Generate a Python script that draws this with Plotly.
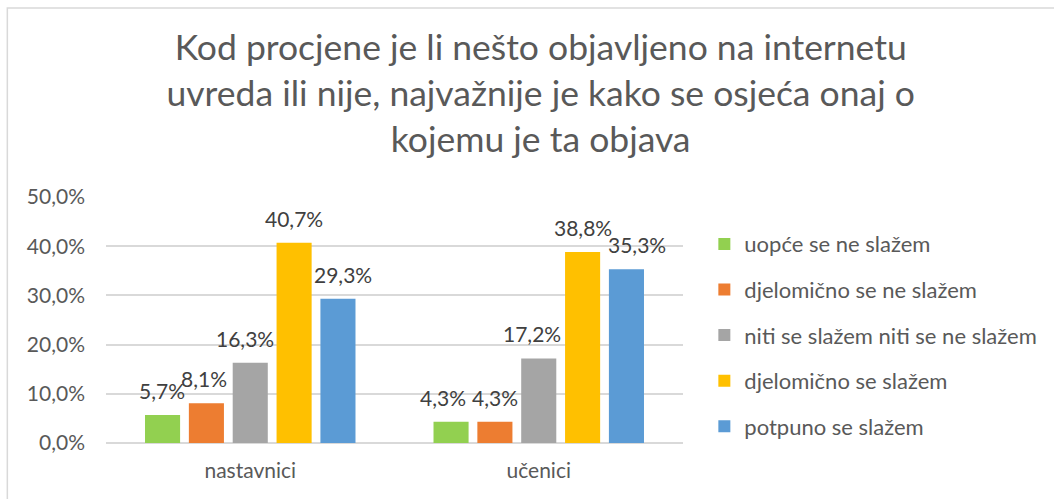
import plotly.graph_objects as go

# data
groups = ['nastavnici', 'učenici']
answers = ['uopće se ne slažem', 'djelomično se ne slažem',
           'niti se slažem niti se ne slažem', 'djelomično se slažem',
           'potpuno se slažem']
values = {
    'uopće se ne slažem': [5.7, 4.3],
    'djelomično se ne slažem': [8.1, 4.3],
    'niti se slažem niti se ne slažem': [16.3, 17.2],
    'djelomično se slažem': [40.7, 38.8],
    'potpuno se slažem': [29.3, 35.3],
}
colors = ['#92D050', '#ED7D31', '#A5A5A5', '#FFC000', '#5B9BD5']
y_ticks = [0, 10, 20, 30, 40, 50]

FONT = 'Lato, Liberation Sans, sans-serif'
TEXT_COL = '#595959'
BAR_PITCH = 44  # px between neighbouring bars in a group
# small sideways nudges of the value labels (px), per group, per answer
LABEL_NUDGE = {'nastavnici': [0, -2, -5, 0, 5],
               'učenici': [-8, 0, -7, 0, 10]}


def pct(v):
    return f'{v:.1f}%'.replace('.', ',')


fig = go.Figure()
for i, name in enumerate(answers):
    vals = values[name]
    fig.add_trace(go.Bar(
        x=groups,
        y=vals,
        name=name,
        legendgroup=name,
        marker=dict(color=colors[i], line=dict(width=0)),
        hoverinfo='skip',
    ))
    # value labels a bit above each bar
    for g, v in zip(groups, vals):
        fig.add_annotation(
            x=g, y=v, xref='x', yref='y',
            text=pct(v), showarrow=False,
            xanchor='center', yanchor='bottom',
            xshift=(i - 2) * BAR_PITCH + LABEL_NUDGE[g][i], yshift=10,
            font=dict(size=21, color='#404040', family=FONT),
        )

fig.update_layout(
    width=1054, height=499,
    margin=dict(l=106, r=369, t=197, b=56),
    paper_bgcolor='white', plot_bgcolor='white',
    barmode='group', bargap=0.24, bargroupgap=0.2,
    font=dict(family=FONT, color=TEXT_COL),
    title=dict(
        text='Kod procjene je li nešto objavljeno na internetu<br>'
             'uvreda ili nije, najvažnije je kako se osjeća onaj o<br>'
             'kojemu je ta objava',
        x=0.513, xref='container', xanchor='center',
        y=0.88, yref='container', yanchor='top',
        font=dict(size=35.5, color=TEXT_COL, family=FONT),
    ),
    legend=dict(
        x=1.037, xanchor='left', y=0.894, yanchor='top',
        font=dict(size=22, color=TEXT_COL, family=FONT),
        traceorder='grouped', tracegroupgap=14,
        itemwidth=30,
    ),
    showlegend=True,
)

fig.update_yaxes(
    range=[0, 50], tickvals=y_ticks,
    ticktext=[pct(v) for v in y_ticks],
    showgrid=True, gridcolor='#D9D9D9', gridwidth=1.5,
    zeroline=True, zerolinecolor='#D9D9D9', zerolinewidth=1.5,
    showline=False, ticks='', ticklabelstandoff=20,
    tickfont=dict(size=21, color=TEXT_COL, family=FONT),
)
fig.update_xaxes(
    showgrid=False, showline=False, ticks='',
    ticklabelstandoff=13,
    tickfont=dict(size=21, color=TEXT_COL, family=FONT),
)

# outer chart border (right and bottom edges fall outside the picture)
fig.add_shape(type='rect', xref='paper', yref='paper',
              x0=-0.171, x1=1.7, y0=-0.3, y1=1.768,
              line=dict(color='#D9D9D9', width=1.5), layer='below')

fig.write_html('out.html', config={'displayModeBar': False},
               post_script="document.body.style.margin='0';")
